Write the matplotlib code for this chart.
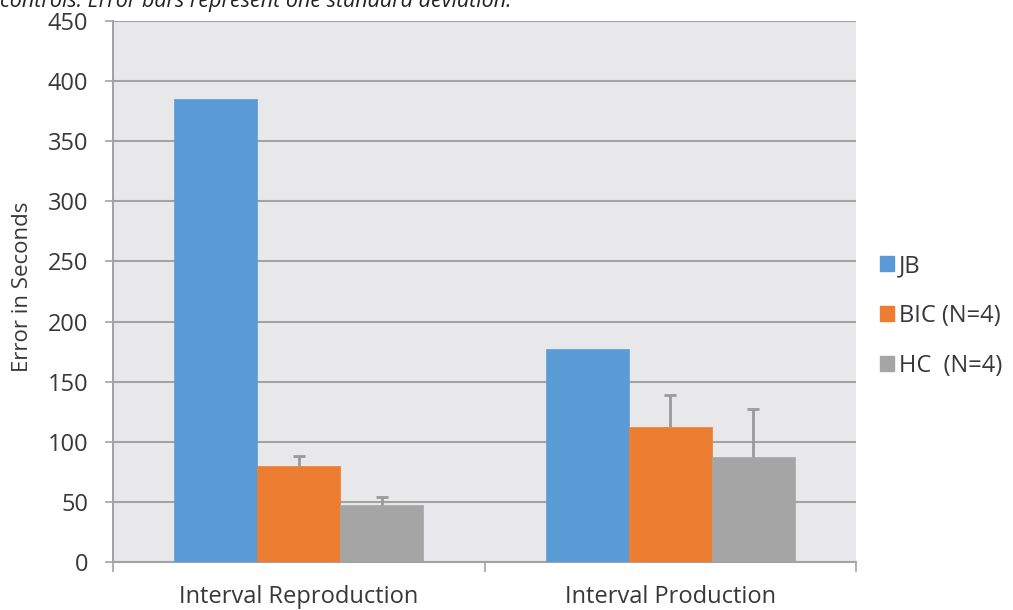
import matplotlib
matplotlib.use("Agg")
import matplotlib.pyplot as plt
import numpy as np
from matplotlib.patches import Patch

categories = ["Interval Reproduction", "Interval Production"]
series_names = ["JB", "BIC (N=4)", "HC  (N=4)"]
values = {
    "JB": [385, 177],
    "BIC (N=4)": [80, 112],
    "HC  (N=4)": [47, 87],
}
errors = {
    "JB": [0, 0],
    "BIC (N=4)": [8, 27],
    "HC  (N=4)": [7, 40],
}
colors = ["#5b9bd5", "#ed7d31", "#a5a5a5"]
yticks = [0, 50, 100, 150, 200, 250, 300, 350, 400, 450]

plt.rcParams['font.family'] = ['Open Sans', 'DejaVu Sans']

W, H = 1013, 610
fig = plt.figure(figsize=(W/100, H/100), dpi=100)
ax = fig.add_axes([113/W, 1-562/H, (856-113)/W, (562-21)/H])
ax.set_facecolor("#e8e8ea")

x = np.arange(len(categories))
w = 0.2234
for i, name in enumerate(series_names):
    pos = x + (i - 1) * w
    vals = np.array(values[name], dtype=float)
    errs = np.array(errors[name], dtype=float)
    ax.bar(pos, vals, width=w, color=colors[i], zorder=3,
           edgecolor=colors[i], linewidth=0.5)
    mask = errs > 0
    if mask.any():
        ax.vlines(pos[mask], vals[mask], vals[mask] + errs[mask],
                  color="#9a9a9a", linewidth=2, zorder=4)
        ax.plot(pos[mask], vals[mask] + errs[mask], linestyle='none',
                marker='_', markersize=9, markeredgewidth=2,
                color="#9a9a9a", zorder=4)

ax.set_xlim(-0.5, 1.5)
ax.set_ylim(0, 450)
ax.set_yticks(yticks)
ax.set_yticklabels([str(t) for t in yticks], fontsize=17, color="#383838")
ax.yaxis.grid(True, color="#a3a3a3", linewidth=1.5, zorder=0)
ax.set_axisbelow(True)

ax.set_xticks(x)
ax.set_xticklabels(categories, fontsize=17, color="#383838")
ax.tick_params(axis='x', length=0, pad=16.5)
ax.set_xticks([-0.5, 0.5, 1.5], minor=True)
ax.tick_params(axis='x', which='minor', length=7, color="#a3a3a3", width=1.2)
ax.tick_params(axis='y', length=6, color="#a3a3a3", width=1.2, pad=12)

for s in ["top", "right"]:
    ax.spines[s].set_visible(False)
for s in ["left", "bottom"]:
    ax.spines[s].set_color("#a3a3a3")
    ax.spines[s].set_linewidth(1.5)

fig.text(22/W, 1-287/H, "Error in Seconds", fontsize=16, color="#383838",
         rotation=90, ha='center', va='center')

handles = [Patch(facecolor=c, edgecolor=c) for c in colors]
leg = fig.legend(handles, series_names, loc='center left',
                 bbox_to_anchor=(880/W, 1-316/H), frameon=False,
                 fontsize=17, handlelength=0.6, handleheight=0.6,
                 handletextpad=0.2, labelspacing=1.1, labelcolor="#383838",
                 borderpad=0, borderaxespad=0)

fig.text(0.0, 1 - 7/H, "controls. Error bars represent one standard deviation.",
         fontsize=15.5, style='italic', va='baseline', ha='left', color="#222222")

fig.savefig("out.png", dpi=100)
